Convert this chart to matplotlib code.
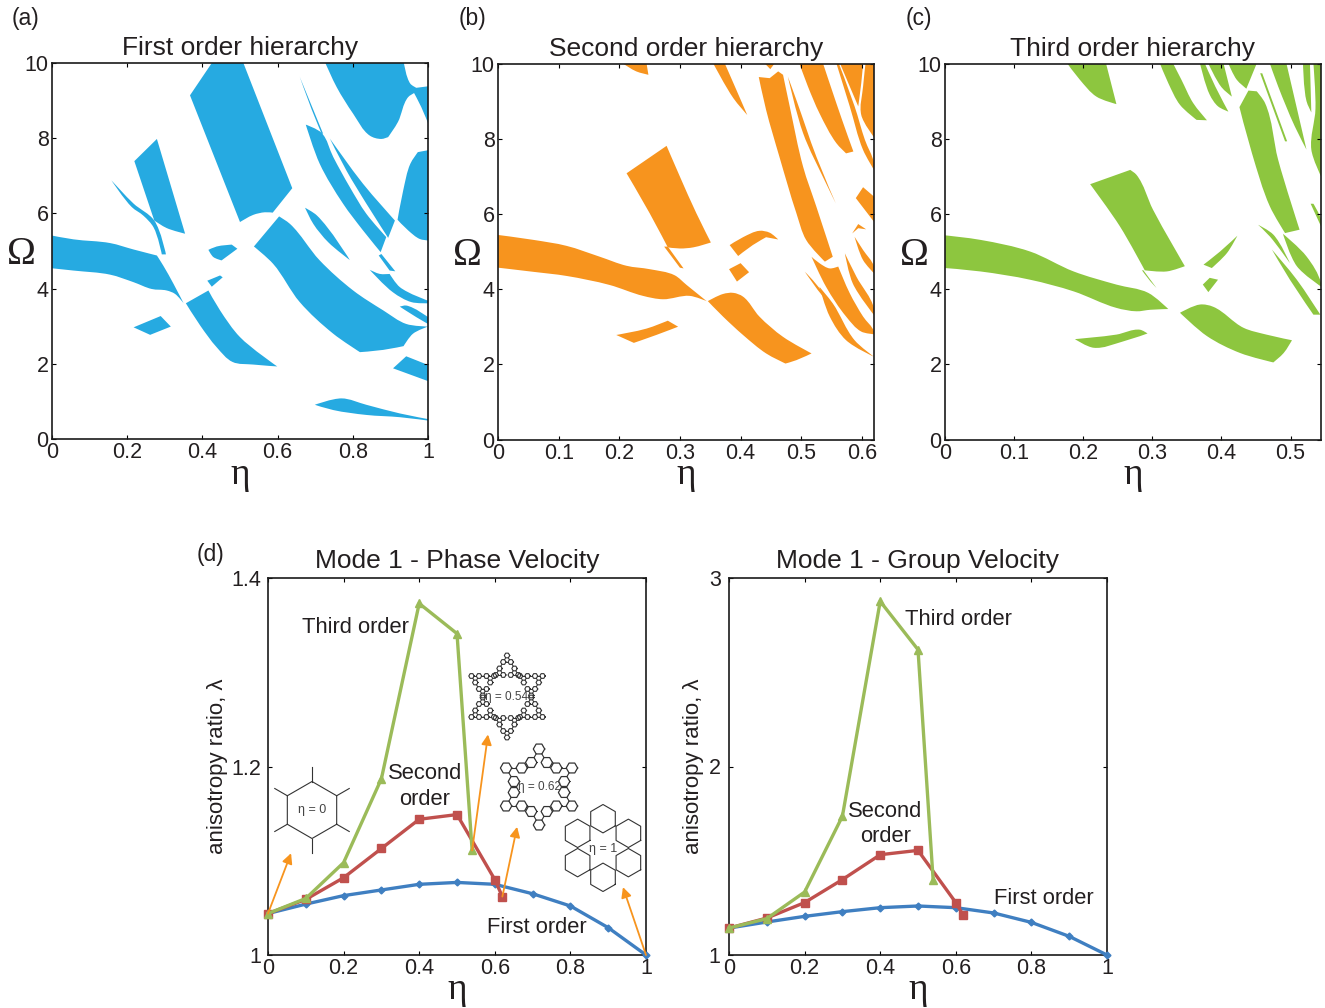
import numpy as np
import matplotlib
matplotlib.use("Agg")
import matplotlib.pyplot as plt
from matplotlib.path import Path
from matplotlib.patches import PathPatch

plt.rcParams['font.family'] = ['Liberation Sans', 'DejaVu Sans']
W, H = 1325, 1008

# ---------------- band-gap regions: (eta, Omega) ----------------
first_regions = [
 [(0,5.41),(.057,5.31),(.155,5.21),(.217,5.04),(.279,4.88),(.296,4.61),(.323,4.13),(.35,3.61),(.327,3.86),(.305,3.95),(.265,3.99),(.217,4.17),(.155,4.37),(.057,4.48),(0,4.54)],
 [(.217,2.97),(.289,3.27),(.316,2.99),(.261,2.77)],
 [(.219,7.39),(.279,7.98),(.354,5.46),(.305,5.61),(.272,5.81)],
 [(.158,6.88),(.212,6.17),(.243,5.94),(.27,5.63),(.292,4.91),(.303,4.91),(.272,5.81),(.217,6.26)],
 [(.367,9.14),(.425,10),(.509,10),(.639,6.67),(.587,6.02),(.566,6.03),(.535,5.96),(.5,5.77)],
 [(.416,5.03),(.438,5.12),(.478,5.17),(.493,5.06),(.451,4.75),(.429,4.84)],
 [(.413,4.21),(.447,4.35),(.454,4.30),(.425,4.05)],
 [(.356,3.61),(.416,3.95),(.447,3.42),(.5,2.71),(.599,1.93),(.535,1.98),(.48,2.05),(.438,2.44),(.394,3.02)],
 [(.604,5.92),(.633,5.72),(.712,4.75),(.801,3.95),(.881,3.42),(.942,3.06),(1,2.99),(.96,2.8),(.935,2.47),(.881,2.37),(.819,2.31),(.748,2.8),(.659,3.64),(.588,4.66),(.537,5.12)],
 [(.673,6.15),(.704,5.95),(.792,4.76),(.735,5.23),(.695,5.72)],
 [(.675,8.36),(.717,8.14),(.748,7.5),(.792,6.7),(.836,5.99),(.889,5.37),(.874,4.97),(.827,5.55),(.774,6.26),(.712,7.32)],
 [(.739,7.99),(.827,6.79),(.912,5.81),(.894,5.35),(.836,6.26),(.783,7.14)],
 [(.727,10),(.936,10),(.953,9.45),(.969,9.34),(1,9.38),(1,8.4),(.982,8.83),(.963,9.2),(.947,9.09),(.92,8.43),(.894,8.03),(.876,7.98),(.845,8.07),(.801,8.65),(.757,9.36)],
 [(1,7.68),(.973,7.63),(.953,7.32),(.934,6.61),(.919,5.83),(.947,5.55),(.978,5.32),(1,5.28)],
 [(.869,4.88),(.876,4.92),(.913,4.46),(.898,4.48)],
 [(.845,4.5),(.872,4.39),(.898,4.39),(.925,4.04),(1,3.68),(1,3.61),(.956,3.64),(.907,3.9)],
 [(.925,3.52),(.942,3.55),(1,3.24),(1,3.06),(.969,3.24)],
 [(.907,1.88),(.942,2.2),(1,1.97),(1,1.54)],
 [(.699,.91),(.77,1.08),(.836,.91),(.925,.68),(1,.53),(1,.49),(.925,.58),(.836,.64),(.748,.77)],
 [(.659,9.63),(.721,8.12),(.717,8.12),(.69,8.78)],
]
second_regions = [
 [(0,5.44),(.058,5.31),(.113,5.15),(.168,4.86),(.212,4.62),(.25,4.53),(.291,4.37),(.311,4.11),(.344,3.68),(.316,3.82),(.272,3.73),(.239,3.82),(.184,4.11),(.113,4.35),(.058,4.46),(0,4.57)],
 [(.195,2.78),(.245,2.95),(.28,3.16),(.297,3.0),(.261,2.78),(.224,2.57)],
 [(.212,7.08),(.278,7.81),(.3,6.99),(.327,6.02),(.351,5.24),(.322,5.11),(.3,5.08),(.28,5.11),(.25,6.02)],
 [(.274,5.13),(.28,5.13),(.306,4.55),(.3,4.57)],
 [(.382,5.17),(.404,5.38),(.431,5.55),(.448,5.5),(.462,5.32),(.442,5.38),(.42,5.17),(.396,4.88)],
 [(.381,4.53),(.4,4.69),(.414,4.45),(.394,4.2)],
 [(.346,3.68),(.371,3.87),(.388,3.9),(.404,3.8),(.431,3.27),(.47,2.73),(.517,2.29),(.492,2.11),(.474,2.02),(.442,2.29),(.404,2.78),(.371,3.27)],
 [(.206,10),(.245,10),(.248,9.7),(.228,9.79)],
 [(.355,10),(.374,10),(.393,9.3),(.411,8.63),(.388,9.08)],
 [(.43,9.64),(.448,9.61),(.462,9.79),(.47,9.7),(.481,8.86),(.503,7.26),(.525,6.19),(.552,4.86),(.539,4.73),(.508,5.31),(.492,6.02),(.464,7.52),(.442,8.77)],
 [(.44,10),(.456,10),(.449,9.85)],
 [(.517,4.86),(.53,4.69),(.547,4.55),(.561,4.6),(.58,3.89),(.602,3.27),(.62,2.87),(.62,2.8),(.599,2.87),(.574,3.27),(.541,4.06)],
 [(.478,9.65),(.492,9.03),(.525,7.52),(.557,6.28),(.541,6.81),(.503,8.15)],
 [(.497,10),(.536,10),(.558,8.94),(.577,8.06),(.586,7.66),(.574,7.61),(.558,7.88),(.53,8.68),(.511,9.39)],
 [(.564,10),(.602,10),(.599,9.48),(.594,8.86),(.58,9.39)],
 [(.606,10),(.62,10),(.62,8.04),(.599,8.63),(.602,9.39)],
 [(.558,10),(.562,10),(.588,8.86),(.605,7.97),(.62,7.35),(.62,7.17),(.602,7.7),(.58,8.86)],
 [(.602,6.71),(.62,6.46),(.62,5.79),(.59,6.42)],
 [(.584,5.48),(.594,5.73),(.607,5.59),(.594,5.62)],
 [(.588,5.39),(.602,5.04),(.62,4.6),(.62,4.42),(.602,4.77)],
 [(.572,4.95),(.591,4.33),(.62,3.49),(.62,3.31),(.585,4.15)],
 [(.53,4.06),(.552,3.62),(.588,2.64),(.62,2.2),(.574,2.64),(.547,3.27)],
 [(.506,4.46),(.519,4.24),(.558,3.44),(.536,3.8)],
]
third_regions = [
 [(0,5.43),(.051,5.31),(.123,5.0),(.186,4.47),(.248,4.12),(.294,3.9),(.323,3.47),(.297,3.45),(.277,3.41),(.248,3.5),(.186,3.94),(.123,4.25),(.051,4.47),(0,4.56)],
 [(.188,2.67),(.248,2.79),(.282,2.92),(.293,2.82),(.258,2.61),(.215,2.44)],
 [(.21,6.79),(.268,7.17),(.277,7.04),(.301,6.11),(.347,4.61),(.321,4.47),(.289,4.5),(.253,5.67)],
 [(.285,4.5),(.287,4.5),(.306,4.03),(.297,4.21)],
 [(.374,4.65),(.398,5.0),(.423,5.42),(.408,4.96),(.386,4.56)],
 [(.373,4.12),(.383,4.3),(.395,4.25),(.381,3.92)],
 [(.34,3.37),(.369,3.59),(.388,3.53),(.432,2.97),(.465,2.79),(.502,2.64),(.49,2.3),(.475,2.05),(.427,2.3),(.379,2.75)],
 [(.177,10),(.233,10),(.248,8.92),(.219,9.12),(.195,9.57)],
 [(.311,10),(.33,10),(.342,9.57),(.359,8.95),(.379,8.49),(.364,8.5),(.34,8.9),(.323,9.48)],
 [(.369,10),(.376,10),(.391,9.39),(.41,8.72),(.395,8.86),(.383,9.17)],
 [(.381,10),(.403,10),(.415,9.12),(.4,9.37)],
 [(.41,10),(.451,10),(.436,9.33),(.422,9.57)],
 [(.426,8.84),(.439,9.28),(.451,9.26),(.463,8.95),(.482,7.44),(.513,5.58),(.492,5.49),(.47,6.2),(.444,7.62)],
 [(.47,10),(.494,10),(.523,7.71),(.506,8.33),(.482,9.39)],
 [(.518,10),(.528,10),(.53,8.7),(.523,9.0)],
 [(.533,10),(.544,10),(.544,7.0),(.53,7.71),(.536,8.8)],
 [(.489,5.47),(.523,4.87),(.544,4.16),(.544,4.07),(.509,4.61)],
 [(.473,5.05),(.509,4.25),(.543,3.32),(.533,3.32),(.499,4.25)],
 [(.529,6.27),(.533,6.27),(.544,5.85),(.544,5.67)],
 [(.453,5.71),(.475,5.45),(.499,4.69),(.47,5.4)],
 [(.456,9.74),(.459,9.74),(.495,7.93),(.492,7.93)],
]

# ---------------- anisotropy ratio series ----------------
eta_first = [0, .1, .2, .3, .4, .5, .6, .7, .8, .9, 1]
eta_second = [0, .1, .2, .3, .4, .5, .6, .62]
eta_third = [0, .1, .2, .3, .4, .5, .54]
phase_first = [1.044, 1.054, 1.063, 1.069, 1.075, 1.077, 1.075, 1.065, 1.052, 1.029, 1.0]
phase_second = [1.044, 1.059, 1.082, 1.113, 1.144, 1.149, 1.08, 1.062]
phase_third = [1.044, 1.06, 1.098, 1.187, 1.373, 1.341, 1.111]
group_first = [1.143, 1.175, 1.205, 1.23, 1.251, 1.26, 1.251, 1.223, 1.173, 1.099, 1.0]
group_second = [1.143, 1.196, 1.278, 1.4, 1.532, 1.555, 1.278, 1.21]
group_third = [1.143, 1.193, 1.334, 1.736, 2.876, 2.62, 1.4]

COL_BLUE, COL_ORANGE, COL_GREEN = '#26AAE1', '#F7941E', '#8DC63F'
LINE_BLUE, LINE_RED, LINE_GREEN = '#3F7FC1', '#C0504D', '#9BBB59'
TXT = '#231F20'
TICK = 15.5
SERIF = ['Liberation Serif', 'DejaVu Serif']

def px_axes(l, t, r, b):
    return fig.add_axes([l / W, 1 - b / H, (r - l) / W, (b - t) / H])

def style(ax, xticks, xlabels, yticks, ylabels, xlim, ylim, ypad):
    ax.set_xlim(*xlim); ax.set_ylim(*ylim)
    ax.set_xticks(xticks, xlabels); ax.set_yticks(yticks, ylabels)
    ax.tick_params(direction='in', top=True, right=True, length=3, width=0.8,
                   labelsize=TICK, labelcolor=TXT)
    ax.tick_params(axis='x', pad=2.5)
    ax.tick_params(axis='y', pad=ypad)
    for s in ax.spines.values():
        s.set_linewidth(1.2); s.set_color('#1a1a1a')

def eta_label(ax, pos):
    ax.text(0.5, pos, 'η', transform=ax.transAxes, ha='center', va='center',
            fontsize=27, family=SERIF, color=TXT)

def region_patch(ax, reg, col, xmax, corner=40):
    """Closed outline through the read vertices; gentle vertices are drawn as curves."""
    p = np.array(reg, float)
    n = len(p)
    scale = np.array([1 / xmax, 0.1])
    tang = np.zeros_like(p)
    for i in range(n):
        a = (p[i] - p[i - 1]) * scale
        b = (p[(i + 1) % n] - p[i]) * scale
        turn = np.degrees(abs(np.arctan2(a[0] * b[1] - a[1] * b[0], a @ b)))
        if turn < corner:
            u = a / np.linalg.norm(a) + b / np.linalg.norm(b)
            tang[i] = u / np.linalg.norm(u)
    verts = [p[0]]
    codes = [Path.MOVETO]
    for i in range(n):
        j = (i + 1) % n
        seg = np.linalg.norm((p[j] - p[i]) * scale) / 3
        verts += [p[i] + tang[i] * seg / scale, p[j] - tang[j] * seg / scale, p[j]]
        codes += [Path.CURVE4] * 3
    ax.add_patch(PathPatch(Path(verts, codes), facecolor=col, lw=0))

fig = plt.figure(figsize=(W / 100, H / 100), dpi=100, facecolor='white')

panels = [
 ((52, 63, 428, 439), first_regions, COL_BLUE, 'First order hierarchy', (0, 1),
  [0, .2, .4, .6, .8, 1], ['0', '0.2', '0.4', '0.6', '0.8', '1'], '(a)', 12),
 ((498, 63.5, 874, 439.5), second_regions, COL_ORANGE, 'Second order hierarchy', (0, .62),
  [0, .1, .2, .3, .4, .5, .6], ['0', '0.1', '0.2', '0.3', '0.4', '0.5', '0.6'], '(b)', 459),
 ((945, 63.5, 1321, 439.5), third_regions, COL_GREEN, 'Third order hierarchy', (0, .544),
  [0, .1, .2, .3, .4, .5], ['0', '0.1', '0.2', '0.3', '0.4', '0.5'], '(c)', 906),
]
for box, regions, col, title, xlim, xt, xl, tag, tagx in panels:
    ax = px_axes(*box)
    for reg in regions:
        region_patch(ax, reg, col, xlim[1])
    style(ax, xt, xl, [0, 2, 4, 6, 8, 10], ['0', '2', '4', '6', '8', '10'], xlim, (0, 10), 2.5)
    ax.set_title(title, fontsize=19, color=TXT, pad=5.5)
    eta_label(ax, -0.095)
    ax.text(-0.08, 0.49, 'Ω', transform=ax.transAxes, ha='center', va='center', fontsize=28,
            family=SERIF, color=TXT)
    fig.text(tagx / W, 1 - 19 / H, tag, fontsize=16.5, color=TXT, va='center')

fig.text(197 / W, 1 - 554 / H, '(d)', fontsize=16.5, color=TXT, va='center')

def series(ax, f, s, t):
    ax.plot(eta_first, f, color=LINE_BLUE, lw=2.4, marker='D', ms=3.5, clip_on=False, zorder=3)
    ax.plot(eta_second, s, color=LINE_RED, lw=2.4, marker='s', ms=6, clip_on=False, zorder=4)
    ax.plot(eta_third, t, color=LINE_GREEN, lw=2.4, marker='^', ms=5.5, clip_on=False, zorder=5)

xt = [0, .2, .4, .6, .8, 1]
xl = ['0', '0.2', '0.4', '0.6', '0.8', '1']
PURE = dict(fontsize=15.8, color=TXT, ha='center', va='center', linespacing=1.28)

ax1 = px_axes(268, 578, 646, 955)
series(ax1, phase_first, phase_second, phase_third)
style(ax1, xt, xl, [1, 1.2, 1.4], ['1', '1.2', '1.4'], (0, 1), (1, 1.4), 5)
ax1.set_title('Mode 1 - Phase Velocity', fontsize=19, color=TXT, pad=7.5)
eta_label(ax1, -0.093)
ax1.text(-0.134, 0.5, 'anisotropy ratio, λ', transform=ax1.transAxes, rotation=90,
         fontsize=16, color=TXT, ha='center', va='center')
ax1.text(.231, 1.348, 'Third order', **PURE)
ax1.text(.415, 1.179, 'Second\norder', **PURE)
ax1.text(.712, 1.029, 'First order', **PURE)
arrow_tails = [(0, 1.044), (.54, 1.111), (.62, 1.062), (1, 1.0)]
arrow_heads = [(.061, 1.108), (.582, 1.234), (.659, 1.136), (.939, 1.072)]
for tail, head in zip(arrow_tails, arrow_heads):
    ax1.annotate('', xy=head, xytext=tail, zorder=6,
                 arrowprops=dict(arrowstyle='-|>', color=COL_ORANGE, lw=1.3,
                                 mutation_scale=15, shrinkA=0, shrinkB=0))

ax2 = px_axes(729, 578, 1107, 955)
series(ax2, group_first, group_second, group_third)
style(ax2, xt, xl, [1, 2, 3], ['1', '2', '3'], (0, 1), (1, 3), 6)
ax2.set_title('Mode 1 - Group Velocity', fontsize=19, color=TXT, pad=7.5)
eta_label(ax2, -0.093)
ax2.text(-0.095, 0.5, 'anisotropy ratio, λ', transform=ax2.transAxes, rotation=90,
         fontsize=16, color=TXT, ha='center', va='center')
ax2.text(.607, 2.782, 'Third order', **PURE)
ax2.text(.413, 1.695, 'Second\norder', **PURE)
ax2.text(.833, 1.302, 'First order', **PURE)

# ---------------- lattice sketches, drawn in an overlay in pixel units ----------------
ov = fig.add_axes([0, 0, 1, 1], facecolor='none', zorder=10)
ov.set_xlim(0, W); ov.set_ylim(H, 0); ov.axis('off')
LC = '#333333'

def hexagon(cx, cy, r, rot=0, lw=0.8):
    a = np.deg2rad(np.arange(0, 361, 60) + rot)
    ov.plot(cx + r * np.cos(a), cy + r * np.sin(a), color=LC, lw=lw, solid_joinstyle='round')

def polar(r, deg):
    return r * np.cos(np.deg2rad(deg)), r * np.sin(np.deg2rad(deg))

def link(p, q, r, lw=0.8):
    p, q = np.array(p), np.array(q)
    u = (q - p) / np.linalg.norm(q - p)
    a, b = p + u * r, q - u * r
    ov.plot([a[0], b[0]], [a[1], b[1]], color=LC, lw=lw)

# eta = 0
cx, cy = 312, 810
hexagon(cx, cy, 28.5, 30)
for d in range(30, 390, 60):
    x0, y0 = polar(28.5, d); x1, y1 = polar(43, d)
    ov.plot([cx + x0, cx + x1], [cy + y0, cy + y1], color=LC, lw=0.8)

# eta = 1
cx1, cy1 = 603, 848
for d in range(30, 390, 60):
    dx, dy = polar(29.3, d)
    hexagon(cx1 + dx, cy1 + dy, 14.2, 30)

# eta = 0.62
cx2, cy2 = 539, 787
for d in range(30, 390, 60):
    tx, ty = polar(38, d)
    pts = [(cx2 + tx, cy2 + ty)]
    for s in (150, -150):
        ox, oy = polar(15.6, d + s)
        pts.append((cx2 + tx + ox, cy2 + ty + oy))
    for x, y in pts:
        hexagon(x, y, 5.7, 0, lw=0.9)
    link(pts[0], pts[1], 5.7); link(pts[0], pts[2], 5.7)

# eta = 0.54
cx3, cy3 = 507, 696.5
for d in range(30, 390, 60):
    tx, ty = polar(41, d)
    clusters = []
    for bi, bs in enumerate((0, 150, -150)):
        bx, by = (0, 0) if bi == 0 else polar(15, d + bs)
        trio = []
        for si, ss in enumerate((0, 150, -150)):
            sx, sy = (0, 0) if si == 0 else polar(7.5, d + ss)
            c = (cx3 + tx + bx + sx, cy3 + ty + by + sy)
            trio.append(c)
            hexagon(c[0], c[1], 2.7, 0, lw=0.8)
        link(trio[0], trio[1], 2.7, 0.7); link(trio[0], trio[2], 2.7, 0.7); link(trio[1], trio[2], 2.7, 0.7)
        clusters.append(trio)
    link(clusters[0][1], clusters[1][0], 2.7, 0.7); link(clusters[0][2], clusters[2][0], 2.7, 0.7)

SMALL = dict(color='#444444', ha='center', va='center')
ov.text(312, 810, 'η = 0', fontsize=9, **SMALL)
ov.text(507, 697, 'η = 0.54', fontsize=8.5, **SMALL)
ov.text(539, 787, 'η = 0.62', fontsize=8.5, **SMALL)
ov.text(603, 849, 'η = 1', fontsize=9, **SMALL)

fig.savefig('out.png', dpi=100, facecolor='white')
